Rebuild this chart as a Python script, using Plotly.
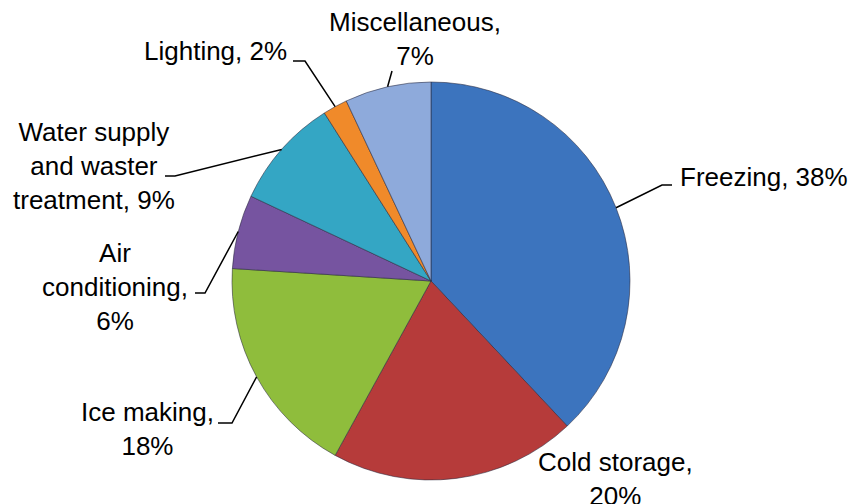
import math
import plotly.graph_objects as go

# ---- data ----
categories = ["Freezing", "Cold storage", "Ice making", "Air conditioning",
              "Water supply and waster treatment", "Lighting", "Miscellaneous"]
values = [38, 20, 18, 6, 9, 2, 7]
label_texts = ["Freezing, 38%", "Cold storage,<br>20%", "Ice making,<br>18%",
               "Air<br>conditioning,<br>6%", "Water supply<br>and waster<br>treatment, 9%",
               "Lighting, 2%", "Miscellaneous,<br>7%"]
colors = ["#3C74BE", "#B63B3A", "#8FBD3C", "#7654A0", "#34A6C4", "#F08A2A", "#8EAADB"]

# ---- layout constants (pixels) ----
W, H = 850, 504
CX, CY, R = 431, 281, 199
# label anchor: (x, y, xanchor)
label_pos = [(678, 177, "left"), (615, 479, "center"), (216, 429, "right"),
             (190, 287, "right"), (177, 166, "right"), (289, 51, "right"),
             (415, 39, "center")]
# leader line after the edge point: list of points (None = no leader)
leader_pts = [[(662, 185), (672, 185)], None, [(232, 423), (218, 423)],
              [(205, 293), (195, 293)], [(175, 176), (165, 176)],
              [(305, 61), (293, 61)], [(392, 71)]]

def px(x):
    return x / W

def py(y):
    return 1 - y / H

fig = go.Figure()
fig.add_trace(go.Pie(
    labels=categories, values=values, sort=False, direction="clockwise",
    rotation=0, textinfo="none", hoverinfo="label+percent",
    marker=dict(colors=colors, line=dict(color="rgba(40,40,60,0.55)", width=1)),
    domain=dict(x=[px(CX - R), px(CX + R)], y=[py(CY + R), py(CY - R)]),
    showlegend=False,
))

total = sum(values)
cum = 0
shapes = []
annotations = []
for i, v in enumerate(values):
    mid = (cum + v / 2) / total * 2 * math.pi
    cum += v
    ex = CX + R * math.sin(mid)
    ey = CY - R * math.cos(mid)
    if leader_pts[i]:
        pts = [(ex, ey)] + leader_pts[i]
        path = "M " + " L ".join(f"{px(x):.5f},{py(y):.5f}" for x, y in pts)
        shapes.append(dict(type="path", path=path, xref="paper", yref="paper",
                           line=dict(color="black", width=1.5), layer="above"))
    lx, ly, xa = label_pos[i]
    annotations.append(dict(x=px(lx), y=py(ly), xref="paper", yref="paper",
                            text=label_texts[i], showarrow=False, xanchor=xa,
                            yanchor="middle", align="center",
                            font=dict(family="Liberation Sans, Arial", size=26, color="black")))

fig.update_layout(width=W, height=H, autosize=False,
                  margin=dict(l=0, r=0, t=0, b=0),
                  paper_bgcolor="white", plot_bgcolor="white",
                  shapes=shapes, annotations=annotations)
fig.write_html("out.html")
